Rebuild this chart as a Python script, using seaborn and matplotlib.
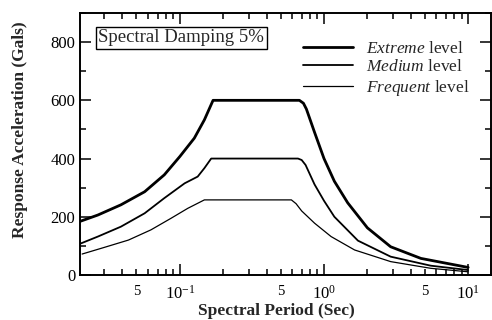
import numpy as np
import pandas as pd
import matplotlib
matplotlib.use("Agg")
import matplotlib.pyplot as plt
import matplotlib.ticker as mticker
import seaborn as sns

# ---- data ----
levels = ["Extreme", "Medium", "Frequent"]
extreme_T = [0.02, 0.027, 0.039, 0.057, 0.078, 0.10, 0.126, 0.148, 0.17, 0.675,
             0.72, 0.755, 0.86, 1.0, 1.18, 1.46, 2.0, 2.9, 4.7, 10]
extreme_V = [183, 206, 241, 286, 344, 407, 470, 533, 600, 600,
             590, 570, 490, 400, 322, 248, 162, 97, 57, 26]
medium_T = [0.02, 0.027, 0.039, 0.057, 0.078, 0.108, 0.133, 0.148, 0.165, 0.66,
            0.70, 0.745, 0.86, 1.0, 1.18, 1.72, 2.9, 5.5, 10]
medium_V = [106, 132, 166, 212, 264, 315, 338, 367, 400, 400,
            395, 378, 311, 255, 200, 118, 63, 32, 17]
frequent_T = [0.021, 0.030, 0.044, 0.063, 0.087, 0.1135, 0.148, 0.594,
              0.64, 0.70, 0.86, 1.12, 1.63, 2.9, 5.5, 10]
frequent_V = [72, 95, 120, 155, 195, 229, 258, 258,
              245, 220, 178, 132, 86, 46, 23, 11]
y_ticks = [0, 200, 400, 600, 800]

df = pd.concat([
    pd.DataFrame({"T": extreme_T, "V": extreme_V, "level": "Extreme"}),
    pd.DataFrame({"T": medium_T, "V": medium_V, "level": "Medium"}),
    pd.DataFrame({"T": frequent_T, "V": frequent_V, "level": "Frequent"}),
])

sns.set_style("ticks")
plt.rcParams["font.family"] = ["Liberation Serif", "DejaVu Serif"]
plt.rcParams["mathtext.fontset"] = "custom"
plt.rcParams["mathtext.rm"] = "Liberation Serif"
plt.rcParams["mathtext.it"] = "Liberation Serif:italic"
plt.rcParams["mathtext.bf"] = "Liberation Serif:bold"

fig = plt.figure(figsize=(4.92, 3.20), dpi=100)
ax = fig.add_axes([80 / 492, 45 / 320, 411 / 492, 262 / 320])

widths = {"Extreme": 2.0, "Medium": 1.3, "Frequent": 0.9}
labels = {"Extreme": r"$\mathit{Extreme}$ level",
          "Medium": r"$\mathit{Medium}$ level",
          "Frequent": r"$\mathit{Frequent}$ level"}
for lv in levels:
    sub = df[df["level"] == lv]
    sns.lineplot(data=sub, x="T", y="V", ax=ax, color="black",
                 linewidth=widths[lv], label=labels[lv], sort=False)

ax.set_xscale("log")
ax.set_xlim(0.0203, 14.4)
ax.set_ylim(0, 900)
ax.set_yticks(y_ticks)
ax.yaxis.set_minor_locator(mticker.MultipleLocator(100))
ax.xaxis.set_major_locator(mticker.LogLocator(base=10, numticks=10))
ax.xaxis.set_minor_locator(mticker.LogLocator(base=10, subs=np.arange(2, 10), numticks=20))


def minor_fmt(x, pos):
    m = x / 10 ** np.floor(np.log10(x) + 1e-9)
    return "5" if abs(m - 5) < 0.01 else ""


ax.xaxis.set_minor_formatter(mticker.FuncFormatter(minor_fmt))

ax.tick_params(which="both", direction="in", top=True, right=True,
               labelsize=12, width=1.1, colors="black")
ax.tick_params(which="major", length=8)
ax.tick_params(which="minor", length=4)
ax.tick_params(axis="x", which="both", pad=7)
ax.tick_params(axis="x", which="minor", labelsize=10.5)
for s in ax.spines.values():
    s.set_linewidth(1.4)
    s.set_color("black")

ax.set_xlabel("Spectral Period (Sec)", fontsize=12.5, fontweight="bold")
ax.set_ylabel("Response Acceleration (Gals)", fontsize=12.5, fontweight="bold")
ax.xaxis.set_label_coords(0.479, -0.107)
ax.yaxis.set_label_coords(-0.127, 0.553)

ax.text(0.045, 0.905, "Spectral Damping 5%", transform=ax.transAxes,
        fontsize=13.5, va="center", ha="left",
        bbox=dict(boxstyle="square,pad=0.15", facecolor="white",
                  edgecolor="black", linewidth=1.0))

leg = ax.legend(loc="upper left", bbox_to_anchor=(0.5426, 0.895),
                frameon=False, fontsize=12.5, handlelength=2.9,
                handletextpad=0.7, labelspacing=0.15, borderpad=0,
                borderaxespad=0)

fig.savefig("out.png", dpi=100)
